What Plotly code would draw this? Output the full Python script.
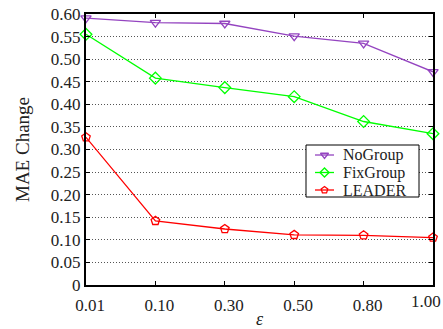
import plotly.graph_objects as go

eps_labels = ["0.01", "0.10", "0.30", "0.50", "0.80", "1.00"]
nogroup = [0.591, 0.581, 0.579, 0.551, 0.535, 0.472]
fixgroup = [0.555, 0.458, 0.437, 0.417, 0.362, 0.335]
leader = [0.327, 0.142, 0.124, 0.111, 0.110, 0.105]
y_ticks = [0, 0.05, 0.10, 0.15, 0.20, 0.25, 0.30, 0.35, 0.40, 0.45, 0.50, 0.55, 0.60]
y_ticktext = ["0", "0.05", "0.10", "0.15", "0.20", "0.25", "0.30", "0.35", "0.40", "0.45", "0.50", "0.55", "0.60"]
series_names = ["NoGroup", "FixGroup", "LEADER"]

xpos = list(range(len(eps_labels)))
font = "Liberation Serif"
W, H = 443, 329
L, R, T, B = 86, 10, 14, 44
pw, ph = W - L - R, H - T - B


def px(x):
    return (x - L) / pw


def py(y):
    return (H - B - y) / ph


colors = ["#9444C0", "#00FF00", "#FF0000"]
symbols = ["triangle-down-open", "diamond-open", "pentagon-open"]
values = [nogroup, fixgroup, leader]

fig = go.Figure()
for name, vals, col, sym in zip(series_names, values, colors, symbols):
    fig.add_trace(go.Scatter(
        x=xpos, y=vals, name=name, mode="lines+markers",
        line=dict(color=col, width=1.3),
        marker=dict(symbol=sym, size=9, color=col, line=dict(width=1.3, color=col)),
        cliponaxis=False, showlegend=False,
    ))

# custom legend drawn on an invisible overlay axis (layout positions only)
bx0, bx1, by0, by1 = px(306), px(419), py(197), py(145)
fig.add_trace(go.Scatter(
    x=[bx0, bx1, bx1, bx0, bx0], y=[by0, by0, by1, by1, by0],
    xaxis="x2", yaxis="y2", mode="lines", fill="toself", fillcolor="white",
    line=dict(color="black", width=1), showlegend=False, hoverinfo="skip",
))
annotations = []
row_y = [155, 172.5, 190]
for i, (name, col, sym) in enumerate(zip(series_names, colors, symbols)):
    yy = py(row_y[i])
    fig.add_trace(go.Scatter(
        x=[px(315), px(334)], y=[yy, yy], xaxis="x2", yaxis="y2", mode="lines",
        line=dict(color=col, width=1.3), showlegend=False, hoverinfo="skip",
    ))
    fig.add_trace(go.Scatter(
        x=[px(324.5)], y=[yy], xaxis="x2", yaxis="y2", mode="markers",
        marker=dict(symbol=sym, size=7, color=col, line=dict(width=1.3, color=col)),
        showlegend=False, hoverinfo="skip", cliponaxis=False,
    ))
    annotations.append(dict(text=name, xref="paper", yref="paper",
                            x=px(341), y=yy, xanchor="left", yanchor="middle",
                            showarrow=False,
                            font=dict(family=font, size=16, color="#222222")))

# last x tick label is pulled inside the page, as in the reference
annotations.append(dict(text=eps_labels[-1], xref="paper", yref="paper",
                        x=px(425.5), y=py(301), xanchor="center", yanchor="middle",
                        showarrow=False, font=dict(family=font, size=17, color="#222222")))
shown_ticktext = eps_labels[:-1] + [""]

fig.update_layout(
    width=W, height=H,
    margin=dict(l=L, r=R, t=T, b=B),
    paper_bgcolor="white", plot_bgcolor="white",
    font=dict(family=font, size=17, color="#222222"),
    showlegend=False,
    annotations=annotations,
    xaxis=dict(
        range=[0, 5], tickvals=xpos, ticktext=shown_ticktext,
        showgrid=False, zeroline=False, automargin=False,
        showline=True, linecolor="black", linewidth=2, mirror="ticks",
        ticks="inside", ticklen=4, tickcolor="black",
        ticklabelstandoff=4, ticklabelshift=4,
        title=dict(text="<i>ε</i>", font=dict(family=font, size=18), standoff=4),
    ),
    yaxis=dict(
        range=[0, 0.6], tickvals=y_ticks, ticktext=y_ticktext,
        showgrid=True, gridcolor="#555555", griddash="1px,2px", gridwidth=1,
        zeroline=False, automargin=False,
        showline=True, linecolor="black", linewidth=2, mirror="ticks",
        ticks="inside", ticklen=4, tickcolor="black",
        title=dict(text="MAE Change", font=dict(family=font, size=19), standoff=16),
    ),
    xaxis2=dict(overlaying="x", range=[0, 1], visible=False, fixedrange=True),
    yaxis2=dict(overlaying="y", range=[0, 1], visible=False, fixedrange=True),
)

fig.write_html("out.html")
